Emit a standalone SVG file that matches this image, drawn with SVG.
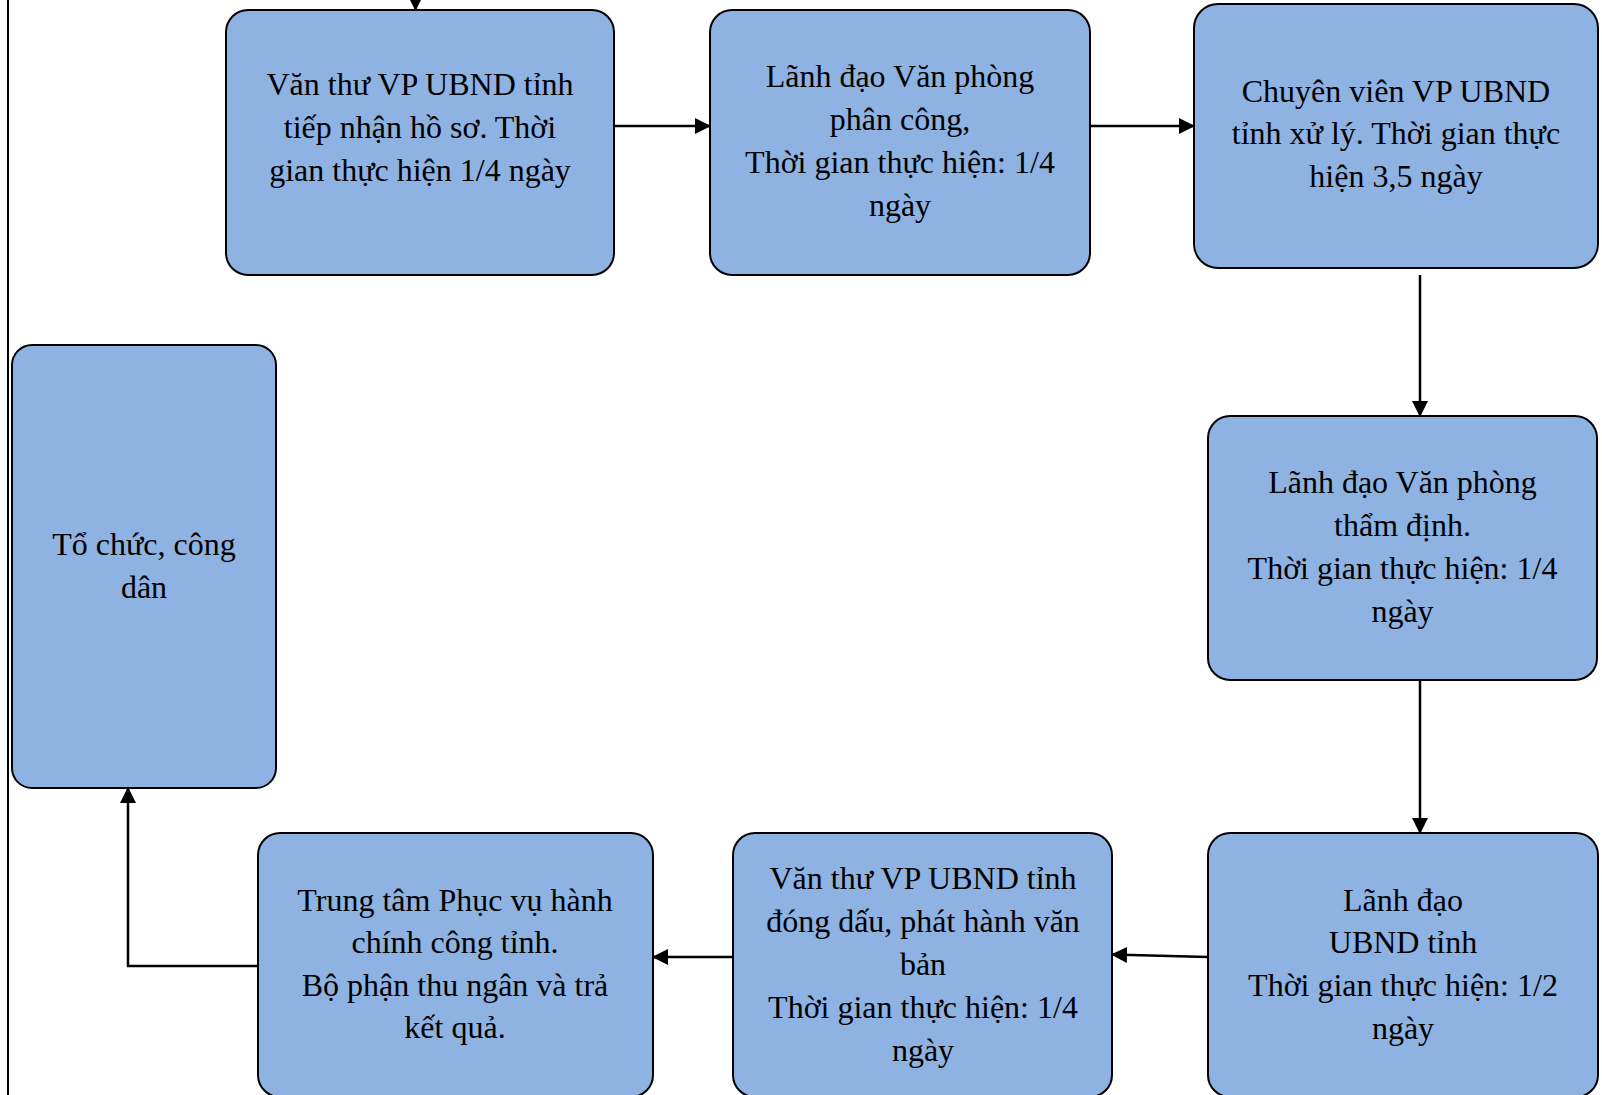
<svg xmlns="http://www.w3.org/2000/svg" width="1602" height="1095" viewBox="0 0 1602 1095">
  <defs>
    <style>
      .box { fill: #8EB3E2; stroke: #000; stroke-width: 2; }
      .lbl { font-family: "Liberation Serif", "Times New Roman", serif; font-size: 32px; fill: #000; text-anchor: middle; }
      .conn { fill: none; stroke: #000; stroke-width: 2.5; }
    </style>
    <marker id="arrow" markerUnits="userSpaceOnUse" markerWidth="16" markerHeight="16" viewBox="0 0 16 16" refX="15" refY="8" orient="auto">
      <path d="M0,0 L16,8 L0,16 Z" fill="#000"/>
    </marker>
  </defs>

  <rect width="1602" height="1095" fill="#fff"/>

  <!-- frame edge on the left -->
  <line x1="8" y1="0" x2="8" y2="1095" stroke="#000" stroke-width="2"/>

  <g id="nodes">
    <g id="van-thu-tiep-nhan">
      <rect class="box" x="226" y="10" width="388" height="265" rx="22"/>
      <text class="lbl" x="420" y="95">Văn thư VP UBND tỉnh</text>
      <text class="lbl" x="420" y="138">tiếp nhận hồ sơ. Thời</text>
      <text class="lbl" x="420" y="181">gian thực hiện 1/4 ngày</text>
    </g>

    <g id="lanh-dao-phan-cong">
      <rect class="box" x="710" y="10" width="380" height="265" rx="22"/>
      <text class="lbl" x="900" y="87">Lãnh đạo Văn phòng</text>
      <text class="lbl" x="900" y="130">phân công,</text>
      <text class="lbl" x="900" y="173">Thời gian thực hiện: 1/4</text>
      <text class="lbl" x="900" y="216">ngày</text>
    </g>

    <g id="chuyen-vien-xu-ly">
      <rect class="box" x="1194" y="4" width="404" height="264" rx="24"/>
      <text class="lbl" x="1396" y="102">Chuyên viên VP UBND</text>
      <text class="lbl" x="1396" y="144">tỉnh xử lý. Thời gian thực</text>
      <text class="lbl" x="1396" y="187">hiện 3,5 ngày</text>
    </g>

    <g id="lanh-dao-tham-dinh">
      <rect class="box" x="1208" y="416" width="389" height="264" rx="22"/>
      <text class="lbl" x="1402.5" y="493">Lãnh đạo Văn phòng</text>
      <text class="lbl" x="1402.5" y="536">thẩm định.</text>
      <text class="lbl" x="1402.5" y="579">Thời gian thực hiện: 1/4</text>
      <text class="lbl" x="1402.5" y="622">ngày</text>
    </g>

    <g id="lanh-dao-ubnd">
      <rect class="box" x="1208" y="833" width="390" height="264" rx="22"/>
      <text class="lbl" x="1403" y="911">Lãnh đạo</text>
      <text class="lbl" x="1403" y="953">UBND tỉnh</text>
      <text class="lbl" x="1403" y="996">Thời gian thực hiện: 1/2</text>
      <text class="lbl" x="1403" y="1039">ngày</text>
    </g>

    <g id="van-thu-phat-hanh">
      <rect class="box" x="733" y="833" width="379" height="264" rx="22"/>
      <text class="lbl" x="923" y="889">Văn thư VP UBND tỉnh</text>
      <text class="lbl" x="923" y="932">đóng dấu, phát hành văn</text>
      <text class="lbl" x="923" y="975">bản</text>
      <text class="lbl" x="923" y="1018">Thời gian thực hiện: 1/4</text>
      <text class="lbl" x="923" y="1061">ngày</text>
    </g>

    <g id="trung-tam-phuc-vu">
      <rect class="box" x="258" y="833" width="395" height="264" rx="22"/>
      <text class="lbl" x="455" y="911">Trung tâm Phục vụ hành</text>
      <text class="lbl" x="455" y="953">chính công tỉnh.</text>
      <text class="lbl" x="455" y="996">Bộ phận thu ngân và trả</text>
      <text class="lbl" x="455" y="1038">kết quả.</text>
    </g>

    <g id="to-chuc-cong-dan">
      <rect class="box" x="12" y="345" width="264" height="443" rx="20"/>
      <text class="lbl" x="144" y="555">Tổ chức, công</text>
      <text class="lbl" x="144" y="598">dân</text>
    </g>
  </g>

  <g id="connectors">
    <path class="conn" d="M415.5,-10 L415.5,10" marker-end="url(#arrow)"/>
    <path class="conn" d="M614,126 L710,126" marker-end="url(#arrow)"/>
    <path class="conn" d="M1090,126 L1194,126" marker-end="url(#arrow)"/>
    <path class="conn" d="M1420,275 L1420,416" marker-end="url(#arrow)"/>
    <path class="conn" d="M1420,680 L1420,833" marker-end="url(#arrow)"/>
    <path class="conn" d="M1208,957 L1112,954.5" marker-end="url(#arrow)"/>
    <path class="conn" d="M733,957 L653,957" marker-end="url(#arrow)"/>
    <path class="conn" d="M258,966 L128,966 L128,788" marker-end="url(#arrow)"/>
  </g>
</svg>
